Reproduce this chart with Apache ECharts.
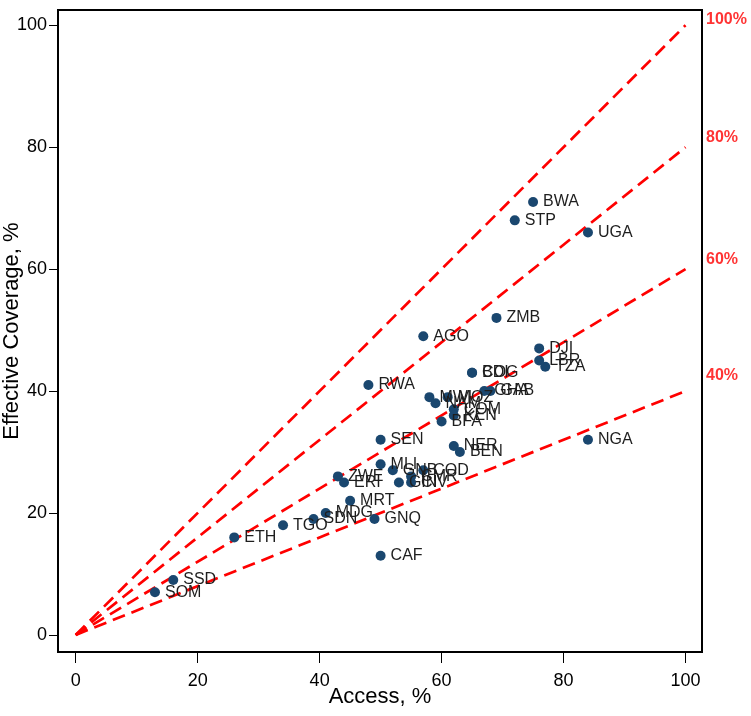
<!DOCTYPE html>
<html>
<head>
<meta charset="utf-8">
<script src="https://cdn.jsdelivr.net/npm/echarts@6/dist/echarts.min.js"></script>
<style>
  html, body { margin: 0; padding: 0; background: #fff; }
  #chart { width: 751px; height: 716px; }
</style>
</head>
<body>
<div id="chart"></div>
<script>
// ---- Data ----
const codes    = ['BWA','STP','UGA','ZMB','AGO','DJI','LBR','TZA','BDI','COG','RWA','GHA','GAB','MWI','NAM','MOZ','COM','KEN','BFA','SEN','NGA','NER','BEN','MLI','GNB','COD','CMR','ZWE','ERI','GIN','CIV','MRT','MDG','SDN','GNQ','TGO','ETH','CAF','SSD','SOM'];
const access   = [75, 72, 84, 69, 57, 76, 76, 77, 65, 65, 48, 67, 68, 58, 59, 61, 62, 62, 60, 50, 84, 62, 63, 50, 52, 57, 55, 43, 44, 53, 55, 45, 41, 39, 49, 34, 26, 50, 16, 13];
const coverage = [71, 68, 66, 52, 49, 47, 45, 44, 43, 43, 41, 40, 40, 39, 38, 39, 37, 36, 35, 32, 32, 31, 30, 28, 27, 27, 26, 26, 25, 25, 25, 22, 20, 19, 19, 18, 16, 13,  9,  7];

const ratios      = [100, 80, 60, 40];            // reference lines: coverage = ratio% of access
const ratioLabels = ['100%', '80%', '60%', '40%'];
const ratioLabelY = [101, 81.5, 61.5, 42.5];        // where the red labels sit on the right

const tickValues = [0, 20, 40, 60, 80, 100];

// ---- Chart ----
const FONT = "'Liberation Sans', Arial, Helvetica, sans-serif";
const chart = echarts.init(document.getElementById('chart'), null, { renderer: 'canvas' });

const X_MIN = -2.9, X_MAX = 102.7, Y_MIN = -2.8, Y_MAX = 102.5;

const series = [];
ratios.forEach((r) => {
  series.push({
    type: 'line',
    data: [[0, 0], [100, r]],
    symbol: 'none',
    silent: true,
    lineStyle: { color: '#ff0000', width: 2.7, type: [13, 7] },
    z: 1
  });
});

series.push({
  type: 'scatter',
  data: codes.map((c, i) => [access[i], coverage[i], c]),
  symbol: 'circle',
  symbolSize: 10,
  itemStyle: { color: '#1a476f', opacity: 1 },
  label: {
    show: true,
    position: 'right',
    distance: 5,
    formatter: (p) => p.value[2],
    color: '#1e1e1e',
    fontFamily: FONT,
    fontSize: 16
  },
  z: 3
});

series.push({
  type: 'scatter',
  data: ratioLabels.map((t, i) => [X_MAX, ratioLabelY[i], t]),
  symbolSize: 0,
  silent: true,
  label: {
    show: true,
    position: 'right',
    distance: 4,
    formatter: (p) => p.value[2],
    color: '#ff0000',
    fontWeight: 'bold',
    fontFamily: FONT,
    fontSize: 16
  },
  clip: false,
  z: 4
});

chart.setOption({
  animation: false,
  backgroundColor: '#ffffff',
  grid: {
    left: 58, right: 49, top: 10, bottom: 64,
    show: true, borderColor: '#000', borderWidth: 2,
    containLabel: false,
    outerBoundsMode: 'none'
  },
  xAxis: {
    type: 'value',
    min: X_MIN, max: X_MAX,
    name: 'Access, %',
    nameLocation: 'middle',
    nameGap: 34,
    nameMoveOverlap: false,
    nameTextStyle: { fontFamily: FONT, fontSize: 22, color: '#000' },
    axisLine: { show: true, onZero: false, lineStyle: { color: '#000', width: 2 } },
    splitLine: { show: false },
    axisTick: { show: true, inside: false, customValues: tickValues, length: 11, lineStyle: { color: '#000', width: 1 } },
    axisLabel: { customValues: tickValues, margin: 20, fontFamily: FONT, fontSize: 18, color: '#000' }
  },
  yAxis: {
    type: 'value',
    min: Y_MIN, max: Y_MAX,
    name: 'Effective Coverage, %',
    nameLocation: 'middle',
    nameGap: 35,
    nameRotate: 90,
    nameMoveOverlap: false,
    nameTextStyle: { fontFamily: FONT, fontSize: 22, color: '#000' },
    axisLine: { show: true, onZero: false, lineStyle: { color: '#000', width: 2 } },
    splitLine: { show: false },
    axisTick: { show: true, inside: false, customValues: tickValues, length: 9, lineStyle: { color: '#000', width: 1 } },
    axisLabel: { customValues: tickValues, margin: 11, fontFamily: FONT, fontSize: 18, color: '#000' }
  },
  series: series
});
</script>
</body>
</html>
